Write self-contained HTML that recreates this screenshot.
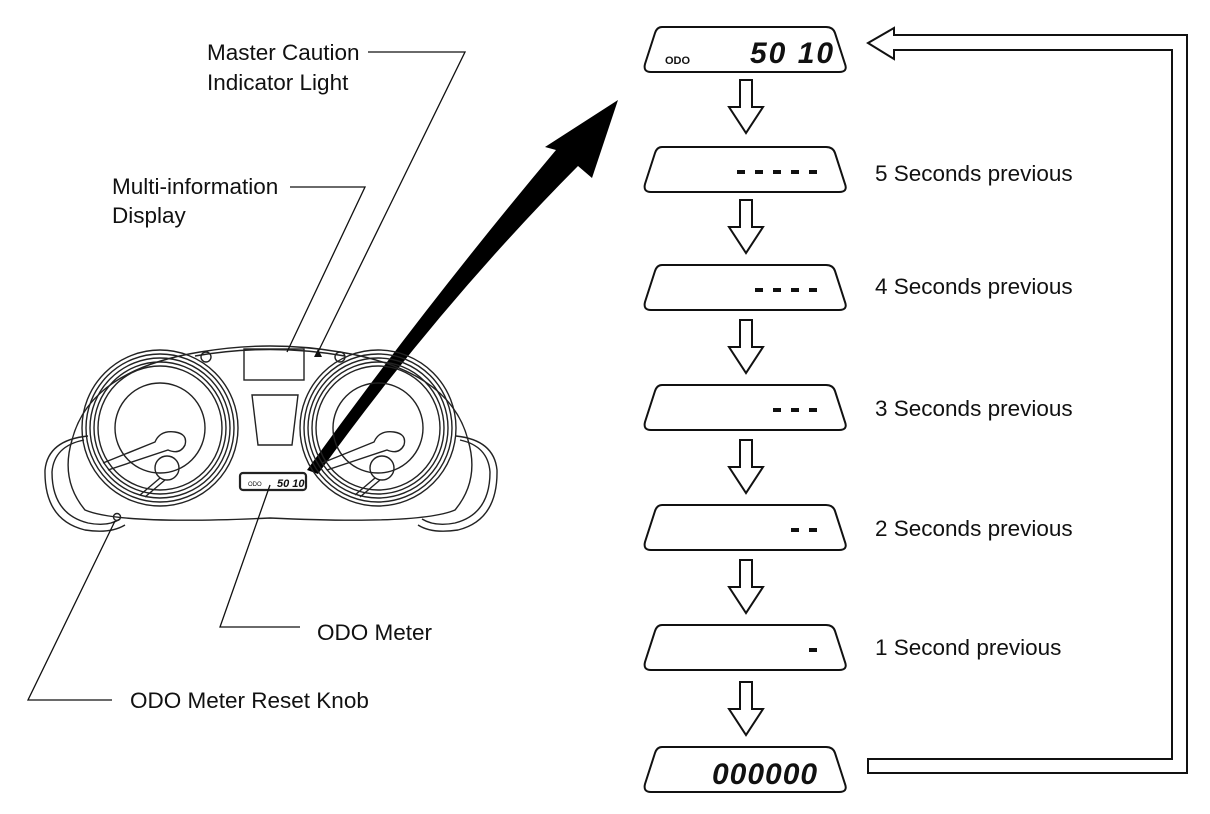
<!DOCTYPE html>
<html><head><meta charset="utf-8"><style>
html,body{margin:0;padding:0;background:#fff;}
svg{display:block;}
text{font-family:"Liberation Sans",Arial,sans-serif;font-size:22.5px;fill:#111;}
.seg{font-family:"Liberation Sans",sans-serif;font-style:italic;font-weight:bold;}
</style></head><body>
<svg width="1210" height="814" viewBox="0 0 1210 814" xmlns="http://www.w3.org/2000/svg">
<defs>
<path id="disp" d="M662,0 L826,0 Q833,0 835,6 L845,37 Q848,45 839,45 L651,45 Q643,45 645,37 L655,6 Q657,0 662,0 Z" fill="#fff" stroke="#111" stroke-width="2"/>
<path id="darr" d="M740,0 L752,0 L752,27 L763,27 L746,53 L729,27 L740,27 Z" fill="#fff" stroke="#111" stroke-width="2"/>
</defs>
<use href="#disp" y="27"/>
<text x="665" y="64" style="font-size:11px;font-weight:bold">ODO</text>
<text x="750" y="63" class="seg" style="font-size:30px;letter-spacing:2px">50 10</text>
<use href="#disp" y="147"/>
<use href="#disp" y="265"/>
<use href="#disp" y="385"/>
<use href="#disp" y="505"/>
<use href="#disp" y="625"/>
<use href="#disp" y="747"/>
<text x="712" y="784" class="seg" style="font-size:30px;letter-spacing:1px">000000</text>
<g fill="#111">
<rect x="737" y="170" width="8" height="4"/><rect x="755" y="170" width="8" height="4"/><rect x="773" y="170" width="8" height="4"/><rect x="791" y="170" width="8" height="4"/><rect x="809" y="170" width="8" height="4"/>
<rect x="755" y="288" width="8" height="4"/><rect x="773" y="288" width="8" height="4"/><rect x="791" y="288" width="8" height="4"/><rect x="809" y="288" width="8" height="4"/>
<rect x="773" y="408" width="8" height="4"/><rect x="791" y="408" width="8" height="4"/><rect x="809" y="408" width="8" height="4"/>
<rect x="791" y="528" width="8" height="4"/><rect x="809" y="528" width="8" height="4"/>
<rect x="809" y="648" width="8" height="4"/>
</g>
<use href="#darr" y="80"/>
<use href="#darr" y="200"/>
<use href="#darr" y="320"/>
<use href="#darr" y="440"/>
<use href="#darr" y="560"/>
<use href="#darr" y="682"/>
<text x="875" y="181">5 Seconds previous</text>
<text x="875" y="294">4 Seconds previous</text>
<text x="875" y="416">3 Seconds previous</text>
<text x="875" y="536">2 Seconds previous</text>
<text x="875" y="655">1 Second previous</text>
<path d="M868,43 L894,28 L894,35 L1187,35 L1187,773 L868,773 L868,759 L1172,759 L1172,50 L894,50 L894,59 Z" fill="#fff" stroke="#111" stroke-width="2"/>
<path d="M307,470 Q430,300 556,150 L545,147 L618,100 L592,178 L578,166 Q440,305 318,474 Z" fill="#000"/>
<g fill="none" stroke="#222" stroke-width="1.4">
<path d="M72,440 Q90,370 200,352 Q270,340 340,352 Q450,370 468,440 Q480,480 455,510 Q420,525 270,518 Q120,525 85,510 Q60,480 72,440 Z"/>
<path d="M88,436 Q48,440 45,470 Q44,520 85,530 Q110,534 125,525"/>
<path d="M84,440 Q54,446 52,472 Q52,514 88,523 Q108,527 120,519"/>
<path d="M456,436 Q494,440 497,470 Q498,520 458,530 Q432,534 418,525"/>
<path d="M460,440 Q488,446 490,472 Q490,514 455,523 Q435,527 422,519"/>
<path d="M195,356 Q270,343 345,356"/>
<circle cx="160" cy="428" r="78"/><circle cx="160" cy="428" r="74"/><circle cx="160" cy="428" r="70"/><circle cx="160" cy="428" r="66"/><circle cx="160" cy="428" r="62"/>
<circle cx="160" cy="428" r="45"/>
<circle cx="378" cy="428" r="78"/><circle cx="378" cy="428" r="74"/><circle cx="378" cy="428" r="70"/><circle cx="378" cy="428" r="66"/><circle cx="378" cy="428" r="62"/>
<circle cx="378" cy="428" r="45"/>
<path d="M103,463 L155,442 Q160,430 175,432 Q188,434 185,445 Q180,455 168,450 L108,470"/>
<circle cx="167" cy="468" r="12"/><path d="M160,478 L140,495 M165,480 L145,497"/>
<path d="M322,463 L374,442 Q379,430 394,432 Q407,434 404,445 Q399,455 387,450 L327,470"/>
<circle cx="382" cy="468" r="12"/><path d="M375,478 L355,495 M380,480 L360,497"/>
<rect x="244" y="349" width="60" height="31"/>
<path d="M252,395 L298,395 L292,445 L258,445 Z"/>
<circle cx="206" cy="357" r="5"/><circle cx="340" cy="357" r="5"/>
<rect x="240" y="473" width="66" height="17" rx="3" stroke-width="2.2"/>
<circle cx="117" cy="517" r="3.5"/>
</g>
<path d="M314,357 L322,357 L318,349 Z" fill="#111"/>
<text x="248" y="486" style="font-size:6px">ODO</text>
<text x="277" y="487" class="seg" style="font-size:11px">50 10</text>
<g fill="none" stroke="#111" stroke-width="1.3">
<path d="M368,52 L465,52 L318,352"/>
<path d="M290,187 L365,187 L287,352"/>
<path d="M270,485 L220,627 L300,627"/>
<path d="M115,521 L28,700 L112,700"/>
</g>
<text x="207" y="60">Master Caution</text>
<text x="207" y="90">Indicator Light</text>
<text x="112" y="194">Multi-information</text>
<text x="112" y="223">Display</text>
<text x="317" y="640">ODO Meter</text>
<text x="130" y="708">ODO Meter Reset Knob</text>
</svg>
</body></html>
